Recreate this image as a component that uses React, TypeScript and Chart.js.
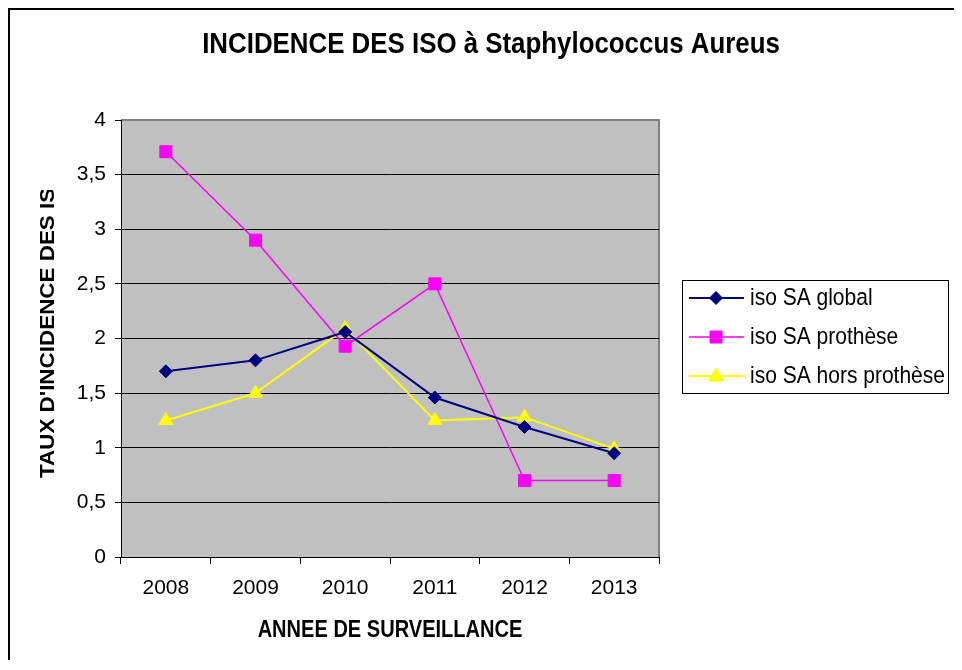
import React, { useEffect, useRef } from "react";
import { Chart, registerables } from "chart.js";

Chart.register(...registerables);

const FONT = '"Liberation Sans", Arial, sans-serif';

const years = ["2008", "2009", "2010", "2011", "2012", "2013"];
const isoGlobal = [1.7, 1.8, 2.06, 1.46, 1.19, 0.95];
const isoProthese = [3.71, 2.9, 1.93, 2.5, 0.7, 0.7];
const isoHorsProthese = [1.25, 1.5, 2.09, 1.25, 1.28, 0.99];
const seriesLabels = ["iso SA global", "iso SA prothèse", "iso SA hors prothèse"];
const seriesColors = ["#000080", "#FF00FF", "#FFFF00"];
const seriesStyles = ["rectRot", "rect", "triangle"];
const yMin = 0;
const yMax = 4;
const yStep = 0.5;
const chartTitle = "INCIDENCE DES ISO à Staphylococcus Aureus";
const xTitle = "ANNEE DE SURVEILLANCE";
const yTitle = "TAUX D'INCIDENCE DES ISO";

const W = 954;
const H = 652;
const STRETCH = 1.15;

function drawFitted(
  ctx: CanvasRenderingContext2D,
  text: string,
  x: number,
  y: number,
  targetW: number,
  bold: boolean,
  stretch: number
) {
  ctx.save();
  const wt = bold ? "bold " : "";
  ctx.font = `${wt}100px ${FONT}`;
  const w = ctx.measureText(text).width;
  const size = (100 * targetW) / w;
  ctx.font = `${wt}${size}px ${FONT}`;
  ctx.translate(x, y);
  ctx.scale(1, stretch);
  ctx.textAlign = "center";
  ctx.textBaseline = "middle";
  ctx.fillStyle = "#000";
  ctx.fillText(text, 0, 0);
  ctx.restore();
}

function drawMarker(ctx: CanvasRenderingContext2D, style: string, x: number, y: number, color: string) {
  ctx.save();
  ctx.fillStyle = color;
  ctx.strokeStyle = color;
  ctx.lineWidth = 1;
  ctx.beginPath();
  if (style === "rect") {
    ctx.rect(x - 6, y - 6, 12, 12);
  } else if (style === "rectRot") {
    ctx.moveTo(x, y - 6.5);
    ctx.lineTo(x + 6.5, y);
    ctx.lineTo(x, y + 6.5);
    ctx.lineTo(x - 6.5, y);
    ctx.closePath();
  } else {
    ctx.moveTo(x, y - 8);
    ctx.lineTo(x + 7.5, y + 5);
    ctx.lineTo(x - 7.5, y + 5);
    ctx.closePath();
  }
  ctx.fill();
  ctx.stroke();
  ctx.restore();
}

const decorPlugin = {
  id: "decor",
  beforeDraw(chart: any) {
    const { ctx, chartArea: a } = chart;
    ctx.save();
    ctx.fillStyle = "#FFFFFF";
    ctx.fillRect(0, 0, chart.width, chart.height);
    ctx.fillStyle = "#C0C0C0";
    ctx.fillRect(a.left, a.top, a.right - a.left, a.bottom - a.top);
    ctx.strokeStyle = "#808080";
    ctx.lineWidth = 2;
    ctx.beginPath();
    ctx.moveTo(a.left, a.top);
    ctx.lineTo(a.right, a.top);
    ctx.lineTo(a.right, a.bottom);
    ctx.stroke();
    ctx.restore();
  },
  afterDraw(chart: any) {
    const { ctx } = chart;
    ctx.save();
    // outer frame
    ctx.strokeStyle = "#000";
    ctx.lineWidth = 2;
    ctx.strokeRect(1, 1, chart.width + 20, chart.height + 20);

    // main title
    drawFitted(ctx, chartTitle, 483, 37, 578, true, STRETCH);
    // x axis title
    const a = chart.chartArea;
    drawFitted(ctx, xTitle, (a.left + a.right) / 2, 623, 265, true, STRETCH);

    // y axis title (clipped at the top like the original)
    ctx.save();
    ctx.beginPath();
    ctx.rect(0, 182, 90, 600);
    ctx.clip();
    ctx.translate(41, 470);
    ctx.rotate(-Math.PI / 2);
    ctx.scale(STRETCH, 1);
    ctx.font = `bold 19.5px ${FONT}`;
    ctx.textAlign = "left";
    ctx.textBaseline = "middle";
    ctx.fillStyle = "#000";
    ctx.fillText(yTitle, 0, 0);
    ctx.restore();

    // legend
    const bx = 674;
    const by = 272;
    const bw = 266;
    const bh = 113;
    ctx.fillStyle = "#FFFFFF";
    ctx.fillRect(bx, by, bw, bh);
    ctx.strokeStyle = "#000";
    ctx.lineWidth = 1;
    ctx.strokeRect(bx + 0.5, by + 0.5, bw, bh);
    const rows = [290, 329, 368];
    chart.data.datasets.forEach((ds: any, i: number) => {
      const y = rows[i];
      ctx.save();
      ctx.strokeStyle = ds.borderColor;
      ctx.lineWidth = ds.borderWidth;
      ctx.beginPath();
      ctx.moveTo(681, y);
      ctx.lineTo(736, y);
      ctx.stroke();
      ctx.restore();
      drawMarker(ctx, ds.pointStyle, 708, y, ds.borderColor);
      ctx.save();
      ctx.translate(742, y);
      ctx.scale(1, STRETCH);
      ctx.font = `21px ${FONT}`;
      ctx.textAlign = "left";
      ctx.textBaseline = "middle";
      ctx.fillStyle = "#000";
      ctx.fillText(ds.label, 0, 0);
      ctx.restore();
    });
    ctx.restore();
  },
};

export default function App() {
  const ref = useRef<HTMLCanvasElement | null>(null);

  useEffect(() => {
    if (!ref.current) return;
    const values = [isoGlobal, isoProthese, isoHorsProthese];
    const widths = [2, 1.5, 2];
    const radii = [6.5, 8.5, 8];
    const chart = new Chart(ref.current, {
      type: "line",
      data: {
        labels: years,
        datasets: values.map((v, i) => ({
          label: seriesLabels[i],
          data: v,
          borderColor: seriesColors[i],
          backgroundColor: seriesColors[i],
          pointBackgroundColor: seriesColors[i],
          pointBorderColor: seriesColors[i],
          borderWidth: widths[i],
          pointStyle: seriesStyles[i] as any,
          pointRadius: radii[i],
          pointBorderWidth: 1,
          tension: 0,
          fill: false,
        })),
      },
      options: {
        responsive: false,
        animation: false,
        devicePixelRatio: 1,
        layout: { padding: { top: 112, right: W - 651, left: 0, bottom: 0 } },
        plugins: {
          legend: { display: false },
          tooltip: { enabled: false },
          title: { display: false },
        },
        scales: {
          x: {
            type: "category",
            offset: true,
            grid: {
              offset: true,
              drawOnChartArea: false,
              drawTicks: true,
              tickLength: 7,
              color: "#000",
              lineWidth: 1,
            },
            border: { color: "#000", width: 1 },
            ticks: {
              color: "#000",
              font: { family: FONT, size: 21 },
              padding: 12,
              maxRotation: 0,
            },
            afterFit: (s: any) => {
              s.height = H - 549;
            },
          },
          y: {
            min: yMin,
            max: yMax,
            grid: {
              color: (c: any) => (c.tick && c.tick.value === yMax ? "rgba(0,0,0,0)" : "#000"),
              tickColor: "#000",
              tickLength: 6,
              lineWidth: 1,
            },
            border: { color: "#000", width: 1 },
            ticks: {
              stepSize: yStep,
              color: "#000",
              font: { family: FONT, size: 21 },
              padding: 9,
              callback: (v: any) => String(v).replace(".", ","),
            },
            afterFit: (s: any) => {
              s.width = 113;
            },
          },
        },
      },
      plugins: [decorPlugin],
    });
    return () => chart.destroy();
  }, []);

  return (
    <div style={{ width: W, height: H }}>
      <canvas ref={ref} width={W} height={H} style={{ display: "block" }} />
    </div>
  );
}
